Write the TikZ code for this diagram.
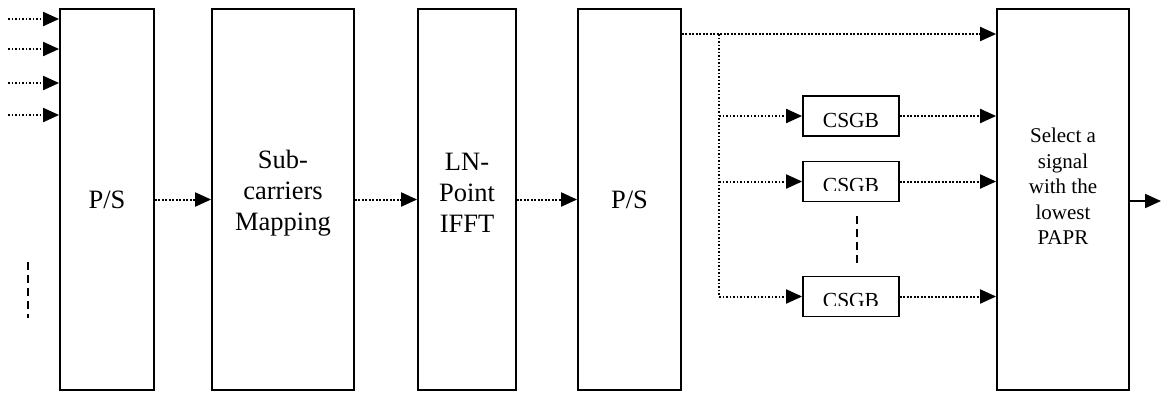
\documentclass[tikz,border=0pt]{standalone}
\usepackage{fontspec}
\setmainfont{Liberation Serif}
\usetikzlibrary{arrows.meta}
\tikzset{
  blk/.style={draw,line width=1.8pt,inner sep=0pt,minimum height=381pt},
  blklab/.style={inner sep=0pt,align=center,font=\fontsize{26.5}{31}\selectfont},
  gen/.style={draw,line width=1.8pt,inner sep=0pt,minimum width=96pt,minimum height=40pt},
  genlab/.style={inner sep=0pt,font=\fontsize{21.5}{25}\selectfont},
  flow/.style={->,line width=2pt,dash pattern=on 1.6pt off 1.9pt},
  dotline/.style={line width=2pt,dash pattern=on 1.6pt off 1.9pt},
  more/.style={line width=1.6pt,dash pattern=on 8pt off 5pt}
}
\begin{document}
\begin{tikzpicture}[x=1pt,y=-1pt,>={Triangle[length=16pt,width=14pt]}]
\useasboundingbox (0,0) rectangle (1161,392);
% processing chain
\node[blk,minimum width=94pt](ps1)at(107,199.5){};
\node[blk,minimum width=142pt](map)at(283,199.5){};
\node[blk,minimum width=98pt](ifft)at(467,199.5){};
\node[blk,minimum width=103pt](ps2)at(629.5,199.5){};
\node[blk,minimum width=132pt](sel)at(1063,199.5){};
\node[blklab](ps1lab)at(ps1){P/S};
\node[blklab](maplab)at([yshift=6pt]map){Sub-\\carriers\\Mapping};
\node[blklab](ifftlab)at([yshift=7pt]ifft){LN-\\Point\\IFFT};
\node[blklab](ps2lab)at(ps2){P/S};
\node[blklab,font=\fontsize{21}{25.5}\selectfont](sellab)at([yshift=13pt]sel){Select a\\signal\\with the\\lowest\\PAPR};
\draw[flow](ps1)--(map);
\draw[flow](map)--(ifft);
\draw[flow](ifft)--(ps2);
% parallel inputs
\foreach \y [count=\i] in {19,49,83,115}{
  \coordinate(in\i)at(8,\y);
  \draw[flow](in\i)--(in\i-|ps1.west);
}
\draw[more](28,262)--(28,318);
% candidate signal branches
\coordinate(tap)at(719,34);
\node[gen](g1)at(851,116){};
\node[gen](g2)at(851,181.5){};
\node[gen](g3)at(851,296.5){};
\node[genlab](lab1)at([yshift=-4pt]g1.center){CSGB};
\foreach \g in {2,3}{
  \begin{scope}
  \clip(g\g.north west)rectangle([yshift=12pt]g\g.south east);
  \node[genlab](lab\g)at([yshift=-4pt]g\g.center){CSGB};
  \end{scope}
}
\draw[flow](ps2.east|-tap)--(tap-|sel.west);
\draw[dotline](tap)--(tap|-g3);
\foreach \g in {g1,g2,g3}{
  \draw[flow](tap|-\g)--(\g);
  \draw[flow](\g)--(\g-|sel.west);
}
\draw[more,shorten <=14pt,shorten >=13pt]([xshift=6pt]g2.south)--([xshift=6pt]g3.north);
% chosen output
\coordinate(out)at(1161,201);
\draw[->,line width=2pt](sel.east|-out)--(out);
\end{tikzpicture}
\end{document}
